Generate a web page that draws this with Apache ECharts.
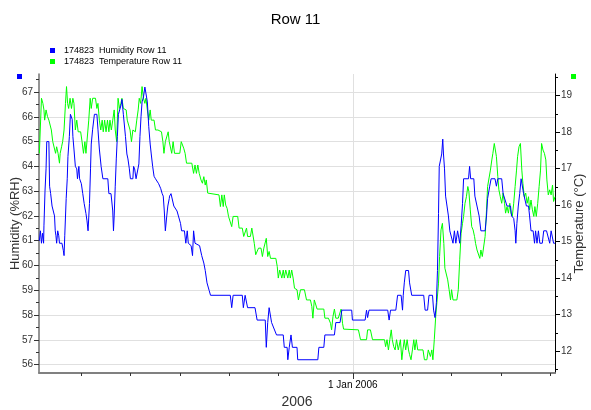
<!DOCTYPE html>
<html>
<head>
<meta charset="utf-8">
<script src="https://cdn.jsdelivr.net/npm/echarts@6/dist/echarts.min.js"></script>
<style>html,body{margin:0;padding:0;background:#fff}#c{width:591px;height:410px}</style>
</head>
<body>
<div id="c"></div>
<script>
// x values are days relative to 1 Jan 2006
const humidityDays = [-88.8,-88.5,-88.2,-87.9,-87.6,-87.5,-87.2,-86.9,-86.7,-86.1,-85.9,-85.6,-85.2,-84.8,-84.5,-84.3,-84.1,-83.9,-83.6,-83.3,-83.1,-82.4,-82.0,-81.8,-81.6,-81.2,-80.9,-80.7,-80.3,-80.0,-79.7,-79.5,-79.3,-79.0,-78.6,-78.2,-78.0,-77.6,-77.4,-76.9,-76.5,-76.1,-75.6,-75.3,-75.0,-74.6,-74.3,-74.1,-73.7,-73.2,-72.5,-72.2,-71.8,-71.3,-70.8,-69.4,-69.1,-68.5,-68.0,-67.8,-67.6,-67.3,-67.0,-66.7,-66.4,-65.6,-65.4,-65.0,-64.4,-64.0,-63.7,-63.3,-63.0,-62.3,-62.1,-61.8,-61.4,-60.9,-60.6,-60.3,-60.0,-59.7,-59.3,-58.9,-58.6,-58.2,-57.8,-57.4,-57.1,-56.7,-56.3,-55.9,-55.4,-55.0,-54.4,-54.0,-53.7,-53.4,-53.1,-52.7,-52.4,-52.0,-51.9,-51.5,-51.1,-50.7,-50.2,-49.8,-49.4,-48.8,-48.5,-47.7,-47.3,-46.9,-46.6,-45.8,-45.4,-45.1,-44.7,-43.4,-42.8,-42.2,-41.8,-41.3,-40.7,-40.3,-34.7,-34.3,-33.9,-31.3,-31.0,-30.5,-30.1,-29.8,-27.7,-27.1,-24.8,-24.5,-24.1,-23.7,-23.3,-23.0,-21.6,-19.7,-19.4,-18.6,-18.4,-18.0,-17.5,-17.1,-15.8,-15.6,-9.9,-9.6,-8.2,-7.9,-5.2,-4.8,-3.6,-3.1,-0.3,-0.1,3.5,3.9,4.2,4.6,9.9,10.3,10.7,12.2,12.7,13.7,14.1,14.3,14.6,15.0,15.8,16.1,16.5,16.7,20.1,20.5,21.2,21.6,22.6,22.9,23.3,23.7,24.0,24.3,24.5,24.8,25.2,25.5,25.7,26.0,26.3,26.7,27.1,27.5,28.0,28.4,28.8,29.2,29.7,29.9,30.3,30.7,31.1,31.4,32.8,33.1,33.4,34.3,34.6,35.2,35.8,36.3,36.7,37.5,37.9,38.2,38.8,39.2,40.3,40.7,41.1,42.2,42.6,43.1,43.7,44.7,45.0,45.6,46.0,46.2,46.5,46.9,47.3,47.7,48.1,48.4,48.8,49.2,49.8,50.1,50.5,51.1,51.5,51.8,52.2,52.6,53.0,53.7,54.1,54.9,55.8,56.2,56.6,56.9,57.3];
const humidityValues = [61.0,61.4,60.9,61.3,60.9,61.6,63.0,63.9,65.0,65.0,63.2,62.9,62.4,62.4,62.0,61.4,61.2,60.9,61.4,61.2,60.9,60.9,60.6,60.4,61.2,62.7,63.5,64.4,65.2,66.1,66.1,65.9,65.2,64.7,64.0,63.9,63.5,64.0,63.5,63.3,62.9,62.5,62.1,61.8,61.4,62.5,63.9,64.9,65.5,66.1,66.1,65.5,64.7,64.0,63.5,63.5,62.9,62.9,62.2,61.4,62.0,63.2,64.3,65.2,66.1,66.5,66.7,66.1,65.2,64.5,64.3,63.9,63.5,63.5,64.0,63.9,63.5,63.5,64.1,65.2,66.0,66.6,66.8,67.2,67.2,66.6,65.6,64.9,64.5,64.0,63.6,63.5,63.5,63.3,63.1,62.9,62.8,62.2,61.4,62.0,62.4,62.7,62.8,62.9,62.9,62.4,62.4,62.2,62.0,61.7,61.4,61.4,60.9,61.4,60.9,60.8,60.4,61.4,60.9,60.8,60.4,60.1,59.8,59.3,59.0,58.8,58.8,58.3,58.8,58.8,58.3,58.8,58.8,58.3,58.3,57.8,57.8,56.7,57.7,58.3,58.3,57.7,57.2,57.2,56.7,56.7,56.2,56.7,57.2,56.7,56.7,56.2,56.2,56.7,56.7,57.2,57.2,57.7,57.7,58.2,58.2,57.8,57.8,58.2,57.9,58.2,58.2,57.8,58.2,58.2,58.8,58.8,58.2,58.8,59.3,59.8,59.8,59.3,59.3,58.8,58.8,58.2,58.2,58.8,58.8,58.2,57.9,58.5,59.8,62.1,64.0,64.0,64.5,65.1,64.5,63.9,62.8,62.4,62.0,61.4,61.4,60.9,61.4,60.9,61.4,61.4,60.9,61.6,62.5,63.5,63.5,64.0,63.5,63.5,62.8,62.4,62.0,61.4,61.4,61.4,62.0,62.7,63.2,63.5,63.5,63.2,63.5,63.5,62.9,62.9,62.4,62.4,62.0,61.9,61.4,60.9,61.7,62.4,62.9,63.5,63.5,62.9,62.9,62.4,62.4,62.0,61.4,61.4,60.9,61.4,60.9,61.4,60.9,60.9,61.4,61.4,60.9,61.4,61.4,60.9,60.9];

const temperatureDays = [-88.8,-88.2,-87.8,-87.5,-87.3,-86.9,-86.5,-86.1,-85.8,-85.4,-85.0,-84.6,-84.2,-83.9,-83.5,-83.1,-82.9,-82.5,-82.2,-81.8,-81.4,-81.1,-80.8,-80.5,-80.1,-79.7,-79.3,-79.0,-78.6,-78.2,-77.8,-77.4,-77.1,-76.7,-76.3,-75.9,-75.6,-75.2,-74.8,-74.4,-74.1,-73.7,-72.9,-72.5,-72.2,-71.8,-71.4,-71.0,-70.7,-70.3,-69.9,-69.5,-69.1,-68.8,-68.4,-68.0,-67.6,-67.3,-66.9,-66.5,-66.1,-65.7,-65.4,-65.0,-64.2,-63.9,-63.5,-63.1,-62.7,-62.3,-61.6,-61.2,-60.8,-60.5,-60.1,-59.7,-59.3,-58.9,-58.6,-58.2,-57.8,-57.4,-57.1,-56.3,-55.9,-55.2,-54.8,-54.2,-53.8,-53.5,-53.1,-52.7,-52.3,-52.0,-51.7,-51.3,-50.9,-50.5,-49.0,-48.6,-48.3,-47.9,-47.5,-47.1,-45.6,-45.1,-44.7,-44.3,-43.9,-43.5,-43.0,-42.6,-42.2,-41.8,-41.5,-41.1,-40.7,-37.9,-37.5,-37.1,-36.7,-36.4,-36.0,-35.6,-35.2,-34.7,-34.3,-33.9,-32.6,-32.2,-31.3,-30.9,-30.5,-30.1,-29.8,-29.0,-28.6,-28.2,-27.9,-27.5,-27.1,-26.7,-26.0,-25.6,-25.2,-24.8,-24.5,-24.1,-23.7,-23.3,-21.8,-21.4,-21.1,-20.7,-20.1,-19.7,-19.4,-19.0,-18.4,-18.0,-17.7,-17.3,-16.9,-16.5,-15.8,-15.4,-15.2,-14.8,-13.7,-13.1,-12.0,-11.6,-11.3,-10.9,-10.5,-10.1,-8.2,-7.9,-6.9,-6.3,-6.0,-5.6,-5.2,-4.8,-4.1,-3.7,-3.3,-2.9,-2.6,1.6,2.2,3.9,4.2,5.0,5.6,9.0,9.3,9.7,10.1,10.5,10.9,11.2,11.6,12.0,12.4,12.9,13.5,13.9,14.2,14.6,15.0,15.4,15.8,16.1,16.5,16.9,17.3,17.6,18.0,18.4,19.9,20.3,21.0,21.4,21.6,22.0,22.4,22.7,23.1,23.5,23.9,24.3,24.6,25.0,25.4,25.8,26.1,26.5,26.9,27.3,27.7,28.0,28.4,29.5,29.9,30.3,30.7,31.1,31.4,31.8,32.2,32.6,32.9,33.3,33.7,34.1,34.5,34.8,35.2,35.6,36.0,36.3,36.7,37.1,37.5,37.9,38.2,38.6,39.0,39.4,39.7,40.1,40.4,40.7,41.1,41.4,41.8,42.2,42.6,43.0,43.3,43.7,44.1,44.5,44.8,45.2,45.6,46.0,46.4,46.7,47.1,47.5,47.9,48.2,48.6,49.0,49.4,49.8,50.1,50.5,50.9,51.3,51.6,52.0,52.4,52.8,53.2,53.5,53.9,54.3,54.7,55.0,55.4,55.8,56.2,56.6,56.9,57.3];
const temperatureValues = [17.42,18.93,18.79,18.61,18.33,18.61,18.43,18.33,18.33,18.06,17.74,17.74,17.42,17.60,17.42,17.15,17.42,17.60,17.74,18.06,18.79,19.25,18.79,18.65,18.93,18.65,18.93,18.79,18.06,18.33,18.01,18.06,18.01,17.74,17.42,17.74,17.42,17.42,18.33,18.93,18.65,18.93,18.93,18.65,18.79,18.33,18.06,18.33,18.01,18.33,18.01,18.33,18.01,18.33,18.06,18.33,18.61,18.06,17.74,18.93,18.65,18.79,18.93,18.65,18.61,18.33,18.33,18.06,17.74,18.06,18.01,18.33,18.61,18.93,18.79,19.25,18.93,18.79,18.93,18.61,18.33,18.61,18.33,18.33,18.06,18.06,18.01,18.01,17.74,17.42,17.74,17.74,18.01,17.74,17.74,17.42,17.74,17.42,17.42,17.74,17.74,17.56,17.42,17.15,17.15,16.87,17.10,16.87,17.10,16.87,16.69,16.60,16.78,16.55,16.69,16.33,16.28,16.28,15.96,16.28,15.96,16.28,16.00,15.91,15.69,15.69,15.41,15.69,15.69,15.37,15.37,15.14,15.14,15.37,15.14,15.14,15.37,15.37,14.95,14.64,14.59,14.82,14.82,14.59,14.82,14.82,15.09,14.59,14.73,14.54,14.54,14.32,14.00,14.22,14.00,14.22,14.00,14.22,14.00,14.22,14.00,14.22,14.00,13.72,13.68,13.40,13.40,13.68,13.68,13.40,13.40,13.22,12.90,13.40,13.40,13.15,13.15,12.90,12.90,12.76,12.58,12.95,13.15,12.90,12.90,12.95,13.15,12.76,12.60,12.58,12.31,12.31,12.58,12.58,12.31,12.31,12.12,12.31,12.03,12.31,12.58,12.31,12.12,12.03,12.31,12.03,12.31,11.76,12.03,12.31,12.03,12.31,12.03,11.90,11.76,12.03,12.31,12.03,12.31,12.03,12.03,11.76,11.76,12.03,12.03,11.85,12.03,11.76,12.31,12.95,13.40,13.86,14.59,15.32,15.50,14.95,14.27,14.22,13.95,13.68,13.40,13.68,13.40,13.40,13.68,14.50,15.23,15.50,15.69,16.05,16.23,16.51,16.37,15.87,15.41,15.32,15.14,14.95,14.77,14.82,14.54,14.77,14.59,14.54,15.14,15.87,16.51,16.51,16.96,17.24,17.42,17.69,17.69,17.33,16.78,16.42,16.23,16.05,16.33,16.05,15.78,15.96,15.78,16.05,15.78,15.69,16.05,16.51,16.96,17.33,17.60,17.69,16.96,16.60,16.23,16.33,16.05,16.23,15.87,16.14,15.87,15.69,15.96,15.69,16.05,16.51,16.96,17.69,17.51,17.42,17.24,16.69,16.28,16.42,16.28,16.55,16.10,16.23];

const dayTicks = [-77,-63,-49,-35,-21,14,28,42,56];
const dayLabelTicks = [0];
const humidityTicks = [56,57,58,59,60,61,62,63,64,65,66,67];
const humidityMinorTicks = [56.5,57.5,58.5,59.5,60.5,61.5,62.5,63.5,64.5,65.5,66.5,67.5];
const temperatureTicks = [12,13,14,15,16,17,18,19];
const temperatureMinorTicks = [11.5,12.5,13.5,14.5,15.5,16.5,17.5,18.5,19.5];
const seriesNames = ['174823  Humidity Row 11','174823  Temperature Row 11'];

const FONT = "'Liberation Sans', Arial, sans-serif";
const xMin = -88.9, xMax = 57.3;
const hMin = 55.665, hMax = 67.726;
const tMin = 11.397, tMax = 19.595;

const hData = humidityDays.map((d,i)=>[d, humidityValues[i]]);
const tData = temperatureDays.map((d,i)=>[d, temperatureValues[i]]);

const chart = echarts.init(document.getElementById('c'), null, {renderer:'canvas'});
chart.setOption({
  animation:false,
  backgroundColor:'#fff',
  textStyle:{fontFamily:FONT},
  title:{text:'Row 11', left:'center', top:7, textStyle:{fontSize:15, fontWeight:'normal', color:'#000', fontFamily:FONT}},
  legend:{orient:'vertical', left:45, top:41, itemWidth:5, itemHeight:5, itemGap:2, icon:'rect',
    textStyle:{fontSize:9, color:'#000', fontFamily:FONT, padding:[0,0,0,4]},
    data:seriesNames},
  grid:{left:39, right:36, top:74, bottom:37, containLabel:false, outerBoundsMode:'none'},
  xAxis:[
    {type:'value', min:xMin, max:xMax, position:'bottom',
     axisLine:{onZero:false, lineStyle:{color:'#808080', width:2}},
     axisTick:{customValues:dayTicks, length:3, lineStyle:{color:'#333'}},
     axisLabel:{show:false}, splitLine:{show:false}},
    {type:'value', min:xMin, max:xMax, position:'bottom',
     axisLine:{show:false, onZero:false},
     axisTick:{customValues:dayLabelTicks, length:6, lineStyle:{color:'#333'}},
     axisLabel:{customValues:dayLabelTicks, formatter:()=>'1 Jan 2006', fontSize:10, color:'#000', margin:7, fontFamily:FONT},
     splitLine:{show:true, lineStyle:{color:'#e0e0e0', width:1}},
     name:'2006', nameLocation:'middle', nameGap:22, nameMoveOverlap:false,
     nameTextStyle:{fontSize:14, color:'#333', fontFamily:FONT}}
  ],
  yAxis:[
    {type:'value', min:hMin, max:hMax, position:'left',
     axisLine:{show:true, onZero:false, lineStyle:{color:'#707070', width:1.5}},
     axisTick:{customValues:humidityTicks, length:5, lineStyle:{color:'#333'}},
     axisLabel:{customValues:humidityTicks, fontSize:10, color:'#333', margin:6, fontFamily:FONT},
     splitLine:{show:true, lineStyle:{color:'#e0e0e0', width:1}},
     name:'Humidity (%RH)', nameLocation:'middle', nameGap:17, nameRotate:90, nameMoveOverlap:false,
     nameTextStyle:{fontSize:13, color:'#333', fontFamily:FONT}},
    {type:'value', min:tMin, max:tMax, position:'right',
     axisLine:{show:true, onZero:false, lineStyle:{color:'#000', width:1}},
     axisTick:{customValues:temperatureTicks, length:5, lineStyle:{color:'#000'}},
     axisLabel:{customValues:temperatureTicks, fontSize:10, color:'#333', margin:6, fontFamily:FONT},
     splitLine:{show:false},
     name:'Temperature (°C)', nameLocation:'middle', nameGap:18, nameRotate:90, nameMoveOverlap:false,
     nameTextStyle:{fontSize:13, color:'#333', fontFamily:FONT}},
    {type:'value', min:hMin, max:hMax, position:'left',
     axisLine:{show:false, onZero:false},
     axisTick:{show:true, customValues:humidityMinorTicks, length:3, lineStyle:{color:'#333'}},
     axisLabel:{show:false}, splitLine:{show:false}},
    {type:'value', min:tMin, max:tMax, position:'right',
     axisLine:{show:false, onZero:false},
     axisTick:{show:true, customValues:temperatureMinorTicks, length:3, lineStyle:{color:'#000'}},
     axisLabel:{show:false}, splitLine:{show:false}}
  ],
  graphic:[
    {type:'rect', left:17, top:74, shape:{width:5, height:5}, style:{fill:'#0000ff'}},
    {type:'rect', left:571, top:74, shape:{width:5, height:5}, style:{fill:'#00ff00'}}
  ],
  series:[
    {name:seriesNames[0], type:'line', xAxisIndex:0, yAxisIndex:0, data:hData, showSymbol:false, symbol:'none',
     color:'#0000ff', lineStyle:{color:'#0000ff', width:1}, z:3},
    {name:seriesNames[1], type:'line', xAxisIndex:0, yAxisIndex:1, data:tData, showSymbol:false, symbol:'none',
     color:'#00ff00', lineStyle:{color:'#00ff00', width:1}, z:2}
  ]
});
</script>
</body>
</html>
